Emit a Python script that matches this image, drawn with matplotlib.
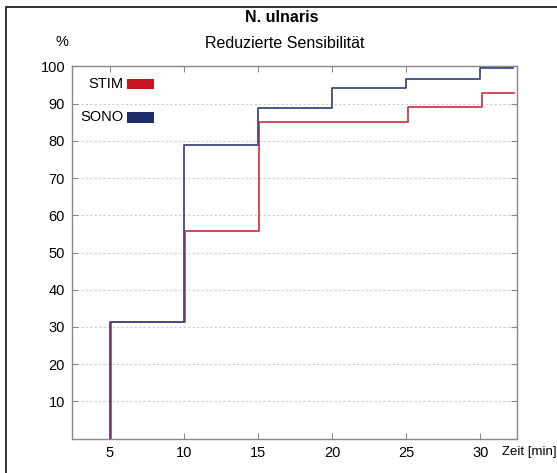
import matplotlib.pyplot as plt
import matplotlib.transforms as mtransforms
from matplotlib.patches import Rectangle

plt.rcParams['font.family'] = ['Liberation Sans', 'DejaVu Sans']

# step times [min] and cumulative share [%]
zeit = [5, 10, 15, 20, 25, 30, 32.2]
sono = [31.4, 78.8, 88.8, 94.3, 96.6, 99.6, 99.6]
stim = [31.4, 55.9, 85.0, 85.0, 89.0, 92.9, 92.9]

x_ticks = [5, 10, 15, 20, 25, 30]
y_ticks = [10, 20, 30, 40, 50, 60, 70, 80, 90, 100]

fig = plt.figure(figsize=(5.57, 4.73), dpi=100)
ax = fig.add_axes([0.1293, 0.0725, 0.7984, 0.7873])

# outer frame around the whole figure
fig.patches.append(Rectangle((6 / 557, -0.05), 1.2, 1.05 - 7 / 473,
                             transform=fig.transFigure, fill=False,
                             edgecolor='#222222', linewidth=1.3))

blue = '#3d4c7c'
red = '#d23a4c'

# start each curve from 0 at the first time point
xs = [zeit[0]] + zeit
ax.step(xs, [0] + sono, where='post', color=blue, linewidth=1.3, zorder=3)
shift = mtransforms.offset_copy(ax.transData, fig=fig, x=1.0, y=0, units='points')
ax.step(xs, [0] + stim, where='post', color=red, linewidth=1.3,
        transform=shift, zorder=2)

ax.set_xlim(2.45, 32.45)
ax.set_ylim(0, 100)
ax.set_xticks(x_ticks)
ax.set_yticks(y_ticks)
ax.tick_params(direction='in', top=True, right=True, length=4,
               color='#888888', labelsize=10.5, pad=5, labeltop=False,
               labelright=False)
for s in ax.spines.values():
    s.set_color('#888888')
    s.set_linewidth(1.0)
ax.yaxis.grid(True, linestyle=(0, (2, 2)), color='#cccccc', linewidth=0.8)
ax.set_axisbelow(True)

# legend swatches
ax.add_patch(Rectangle((0.124, 0.939), 0.06, 0.026, transform=ax.transAxes,
                       facecolor='#c8131f', edgecolor='none', clip_on=False))
ax.add_patch(Rectangle((0.124, 0.849), 0.06, 0.028, transform=ax.transAxes,
                       facecolor='#1e2d6a', edgecolor='none', clip_on=False))
ax.text(0.115, 0.952, 'STIM', transform=ax.transAxes, ha='right', va='center',
        fontsize=10.5)
ax.text(0.115, 0.863, 'SONO', transform=ax.transAxes, ha='right', va='center',
        fontsize=10.5)

fig.text(282 / 557, 1 - 18 / 473, 'N. ulnaris',
         ha='center', va='center', fontsize=11.5, fontweight='bold')
fig.text(285 / 557, 1 - 43 / 473, 'Reduzierte Sensibilität',
         ha='center', va='center', fontsize=11.5)
fig.text(62 / 557, 1 - 42 / 473, '%', ha='center', va='center', fontsize=10.5)
fig.text(502 / 557, 1 - 452 / 473, 'Zeit [min]', ha='left', va='center',
         fontsize=9.5)

fig.savefig('out.png', dpi=100)
